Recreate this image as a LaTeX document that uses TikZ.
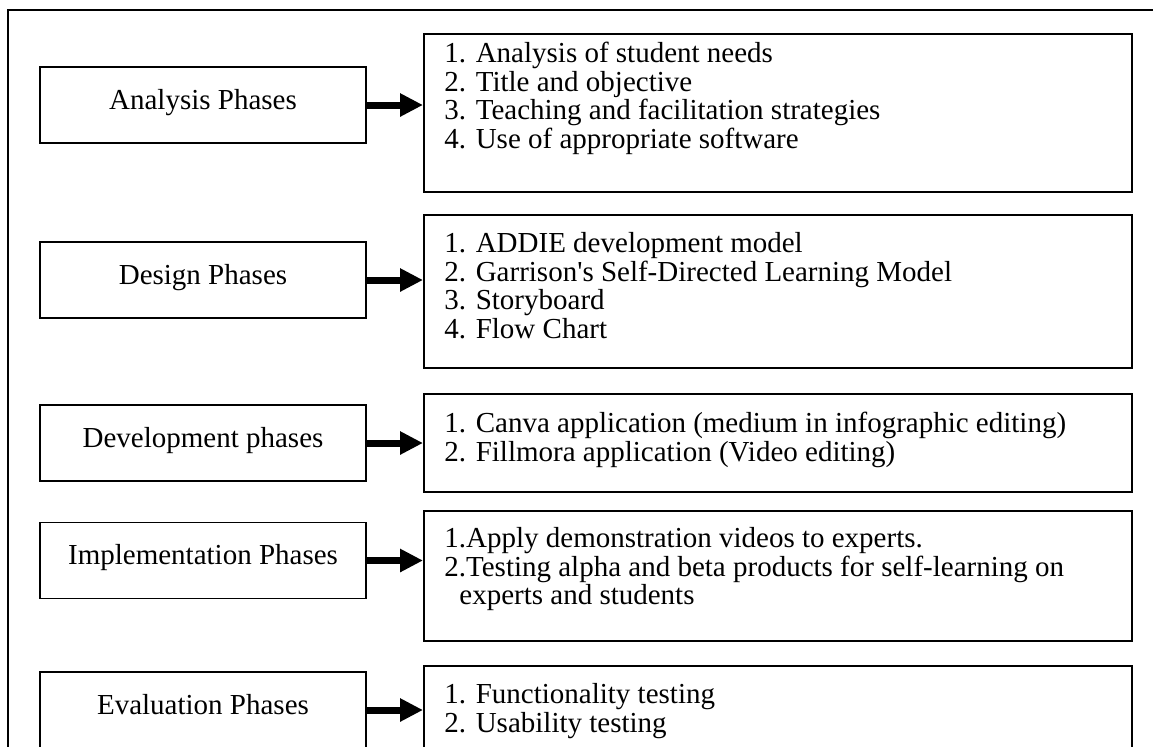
\documentclass[tikz,border=0pt]{standalone}
\usepackage{fontspec}
\setmainfont{Liberation Serif}
\usetikzlibrary{arrows.meta,positioning}

\begin{document}
\begin{tikzpicture}[x=0.5pt,y=-0.5pt,node distance=1cm,
                    font=\fontsize{14.5pt}{14.25pt}\selectfont,
                    phase node/.style={rectangle,draw,line width=0.85pt,minimum width=163pt,
                      minimum height=38pt,inner sep=0pt,text height=11pt,text depth=7pt},
                    list node/.style={rectangle,draw,line width=0.85pt,minimum width=354pt,
                      anchor=north west,inner sep=0pt},
                    item node/.style={align=left,inner sep=0pt},
                    phase arrow/.style={line width=3.5pt,-{Triangle[length=11.5pt,width=11pt]}}]
  \useasboundingbox (0,0) rectangle (1153,746);
  \clip (0,0) rectangle (1153,746);
  %frame%
  \draw[line width=1.4pt] (8,760) -- (8,10) -- (1160,10);

  %ADDIE phases%
  \node[phase node] (p1) at (203,105) {Analysis Phases};
  \node[phase node] (p2) at (203,280) {Design Phases};
  \node[phase node] (p3) at (203,443) {Development phases};
  \node[phase node] (p4) at (203,560.5) {Implementation Phases};
  \node[phase node] (p5) at (203,710) {Evaluation Phases};

  \node[list node,minimum height=79pt] (l1) at (423,33) {};
  \node[list node,minimum height=76.5pt] (l2) at (423,214) {};
  \node[list node,minimum height=49pt] (l3) at (423,393) {};
  \node[list node,minimum height=65pt] (l4) at (423,510) {};
  \node[list node,minimum height=60pt] (l5) at (423,665) {};

  \node[item node] (t1) [below right=4.5pt and 10.5pt of l1.north west]
    {1. Analysis of student needs\\2. Title and objective\\
     3. Teaching and facilitation strategies\\4. Use of appropriate software};
  \node[item node] (t2) [below right=9pt and 10.5pt of l2.north west]
    {1. ADDIE development model\\2. Garrison\textquotesingle s Self-Directed Learning Model\\
     3. Storyboard\\4. Flow Chart};
  \node[item node] (t3) [below right=9.5pt and 10.5pt of l3.north west]
    {1. Canva application (medium in infographic editing)\\
     2. Fillmora application (Video editing)};
  \node[item node] (t4) [below right=8.5pt and 10.5pt of l4.north west]
    {1.Apply demonstration videos to experts.\\
     2.Testing alpha and beta products for self-learning on\\
     \hspace*{7.5pt}experts and students};
  \node[item node] (t5) [below right=9pt and 10.5pt of l5.north west]
    {1. Functionality testing\\2. Usability testing};

  \path[phase arrow]
    (p1.east) edge (p1.east -| l1.west)
    (p2.east) edge (p2.east -| l2.west)
    (p3.east) edge (p3.east -| l3.west)
    (p4.east) edge (p4.east -| l4.west)
    (p5.east) edge (p5.east -| l5.west);
\end{tikzpicture}
\end{document}
